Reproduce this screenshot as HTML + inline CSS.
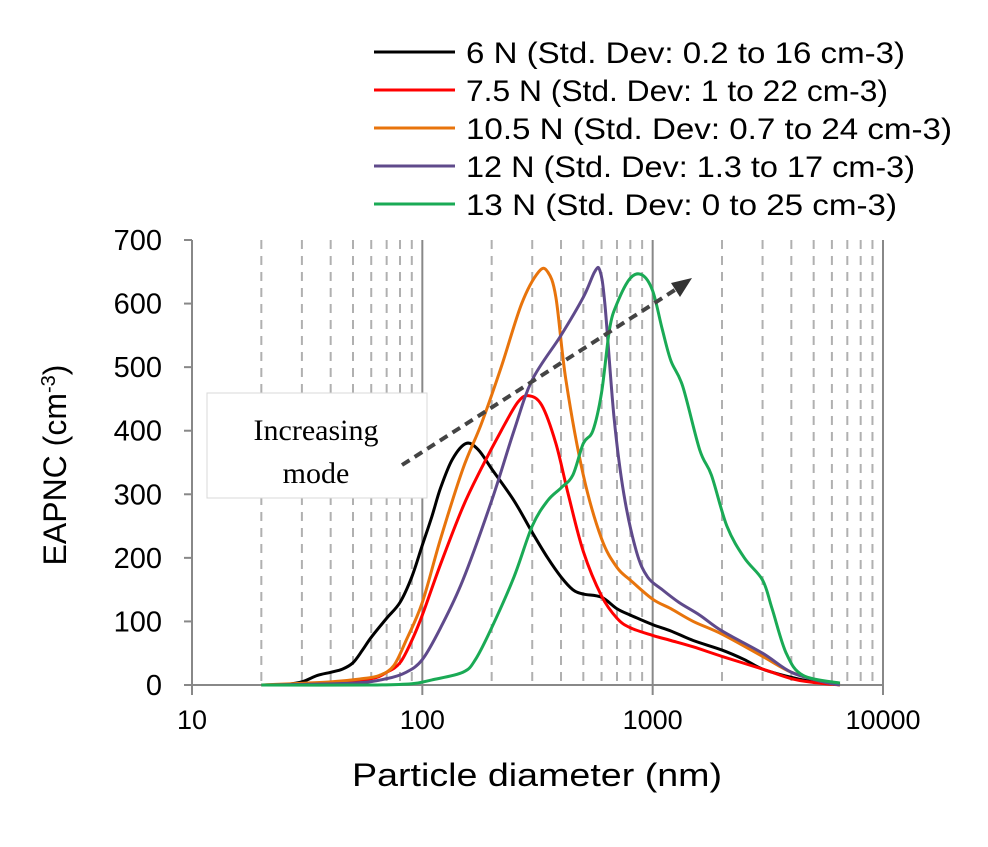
<!DOCTYPE html>
<html><head><meta charset="utf-8"><style>
body{margin:0;background:#fff;}
svg text{font-family:"Liberation Sans",sans-serif;}
</style></head><body>
<svg id="chart" width="988" height="842" viewBox="0 0 988 842" xmlns="http://www.w3.org/2000/svg">
<g id="grid"></g>
<g id="axes"></g>
<g id="series"></g>
<g>
<rect x="207" y="393" width="220" height="105" fill="#fff" stroke="#d8d8d8"/>
<text x="316" y="440" text-anchor="middle" font-size="30" style="font-family:'Liberation Serif',serif">Increasing</text>
<text x="316" y="483" text-anchor="middle" font-size="30" style="font-family:'Liberation Serif',serif">mode</text>
<line x1="402" y1="465" x2="678" y2="288" stroke="#444" stroke-width="4" stroke-dasharray="9,6"/>
<polygon points="692,278 671,283 680,297" fill="#333"/>
</g>
<g id="legend"></g>
</svg>
<script>
const seriesNames=["6 N (Std. Dev: 0.2 to 16 cm-3)","7.5 N (Std. Dev: 1 to 22 cm-3)","10.5 N (Std. Dev: 0.7 to 24 cm-3)","12 N (Std. Dev: 1.3 to 17 cm-3)","13 N (Std. Dev: 0 to 25 cm-3)"];
const legendWidths=[439,422,486,449,431];
const colors=["#000000","#ff0000","#e8740c","#5f4a8b","#1aaa55"];
const yTicks=[0,100,200,300,400,500,600,700];
const xTicks=[10,100,1000,10000];
const d6=[[25,0],[30,5],[35,15],[40,20],[45,25],[50,35],[55,55],[60,75],[70,105],[80,130],[90,170],[100,220],[110,265],[120,310],[135,355],[155,380],[175,370],[200,340],[250,290],[300,240],[350,200],[400,170],[450,150],[500,143],[600,138],[700,120],[800,110],[1000,95],[1200,85],[1500,70],[2000,55],[2500,40],[3000,25],[4000,12],[5000,5],[6500,2]];
const d75=[[20,0],[40,3],[60,10],[70,20],[80,35],[90,70],[100,110],[120,190],[150,280],[180,340],[220,400],[260,445],[290,455],[330,440],[380,380],[430,300],[500,210],[600,140],[700,105],[800,90],[1000,78],[1200,70],[1500,60],[2000,45],[3000,25],[4000,10],[5000,4],[6500,0]];
const d105=[[20,0],[40,5],[55,10],[65,15],[75,30],[85,70],[100,130],[120,230],[150,340],[180,410],[220,500],[270,600],[320,650],[350,650],[380,610],[420,480],[500,330],[600,230],[700,185],[800,165],[1000,135],[1200,120],[1500,100],[2000,80],[3000,45],[4000,20],[5500,5],[6500,0]];
const d12=[[20,0],[50,3],[70,10],[85,20],[100,40],[120,90],[150,165],[200,290],[250,400],[300,480],[400,550],[500,610],[560,650],[590,652],[620,600],[680,420],[750,300],[850,210],[950,170],[1100,150],[1300,130],[1600,110],[2000,85],[3000,50],[4000,20],[5500,5],[6500,0]];
const d13=[[20,0],[60,0],[90,2],[110,8],[150,20],[170,40],[200,90],[250,170],[300,250],[350,290],[400,310],[450,330],[500,380],[550,400],[600,460],[650,560],[700,600],[800,640],[900,645],[1000,620],[1100,560],[1200,510],[1350,470],[1600,370],[1800,330],[2100,250],[2500,200],[3000,165],[3300,120],[3800,50],[4500,15],[6500,3]];
const allData=[d6,d75,d105,d12,d13];
const X0=192,X1=883,Y0=685,Y1=240;
function xs(v){return X0+(Math.log10(v)-1)/3*(X1-X0);}
function ys(v){return Y0-v/700*(Y0-Y1);}
const NS="http://www.w3.org/2000/svg";
function mk(tag,attrs,parent){const e=document.createElementNS(NS,tag);for(const k in attrs)e.setAttribute(k,attrs[k]);parent.appendChild(e);return e;}
const grid=document.getElementById('grid'),axes=document.getElementById('axes'),ser=document.getElementById('series'),leg=document.getElementById('legend');
for(let dec=10;dec<10000;dec*=10){for(let m=2;m<=9;m++){const x=xs(dec*m);const l=mk('line',{x1:x,x2:x,y1:Y1,y2:Y0,stroke:'#b0b0b0','stroke-width':2,'stroke-dasharray':'9,7'},grid);

}}
xTicks.forEach(t=>{const x=xs(t);const l=mk('line',{x1:x,x2:x,y1:Y1,y2:Y0+10,stroke:'#888','stroke-width':2},axes);


const tx=mk('text',{x:x,y:Y0+44,'text-anchor':'middle','font-size':27},axes);tx.textContent=t;

});
const xa=mk('line',{x1:X0,x2:X1,y1:Y0,y2:Y0,stroke:'#888','stroke-width':2},axes);


yTicks.forEach(t=>{const y=ys(t);const l=mk('line',{x1:X0-8,x2:X0,y1:y,y2:y,stroke:'#888','stroke-width':2},axes);


const tx=mk('text',{x:X0-30,y:y+10,'text-anchor':'end','font-size':29},axes);tx.textContent=t;

});
const xt=mk('text',{x:352,y:786,'font-size':32,textLength:370,lengthAdjust:'spacingAndGlyphs'},axes);xt.textContent='Particle diameter (nm)';


const yt=mk('text',{x:0,y:0,'text-anchor':'middle','font-size':32,transform:'translate(66,465) rotate(-90)'},axes);
yt.innerHTML='EAPNC (cm<tspan dy="-11" font-size="20">-3</tspan><tspan dy="11">)</tspan>';


function path(pts){const p=pts.map(d=>[xs(d[0]),ys(d[1])]);let s='M'+p[0][0]+','+p[0][1];
for(let i=0;i<p.length-1;i++){const a=p[Math.max(0,i-1)],b=p[i],c=p[i+1],d=p[Math.min(p.length-1,i+2)];
const c1=[b[0]+(c[0]-a[0])/6,b[1]+(c[1]-a[1])/6],c2=[c[0]-(d[0]-b[0])/6,c[1]-(d[1]-b[1])/6];
s+=' C'+c1[0]+','+c1[1]+' '+c2[0]+','+c2[1]+' '+c[0]+','+c[1];}return s;}
allData.forEach((d,i)=>{const e=mk('path',{d:path(d),fill:'none',stroke:colors[i],'stroke-width':3},ser);

});
seriesNames.forEach((n,i)=>{const y=52+i*38;const l=mk('line',{x1:374,x2:455,y1:y,y2:y,stroke:colors[i],'stroke-width':3},leg);


const t=mk('text',{x:466,y:y+11,'font-size':30,textLength:legendWidths[i],lengthAdjust:'spacingAndGlyphs'},leg);t.textContent=n;

});
</script>
</body></html>
